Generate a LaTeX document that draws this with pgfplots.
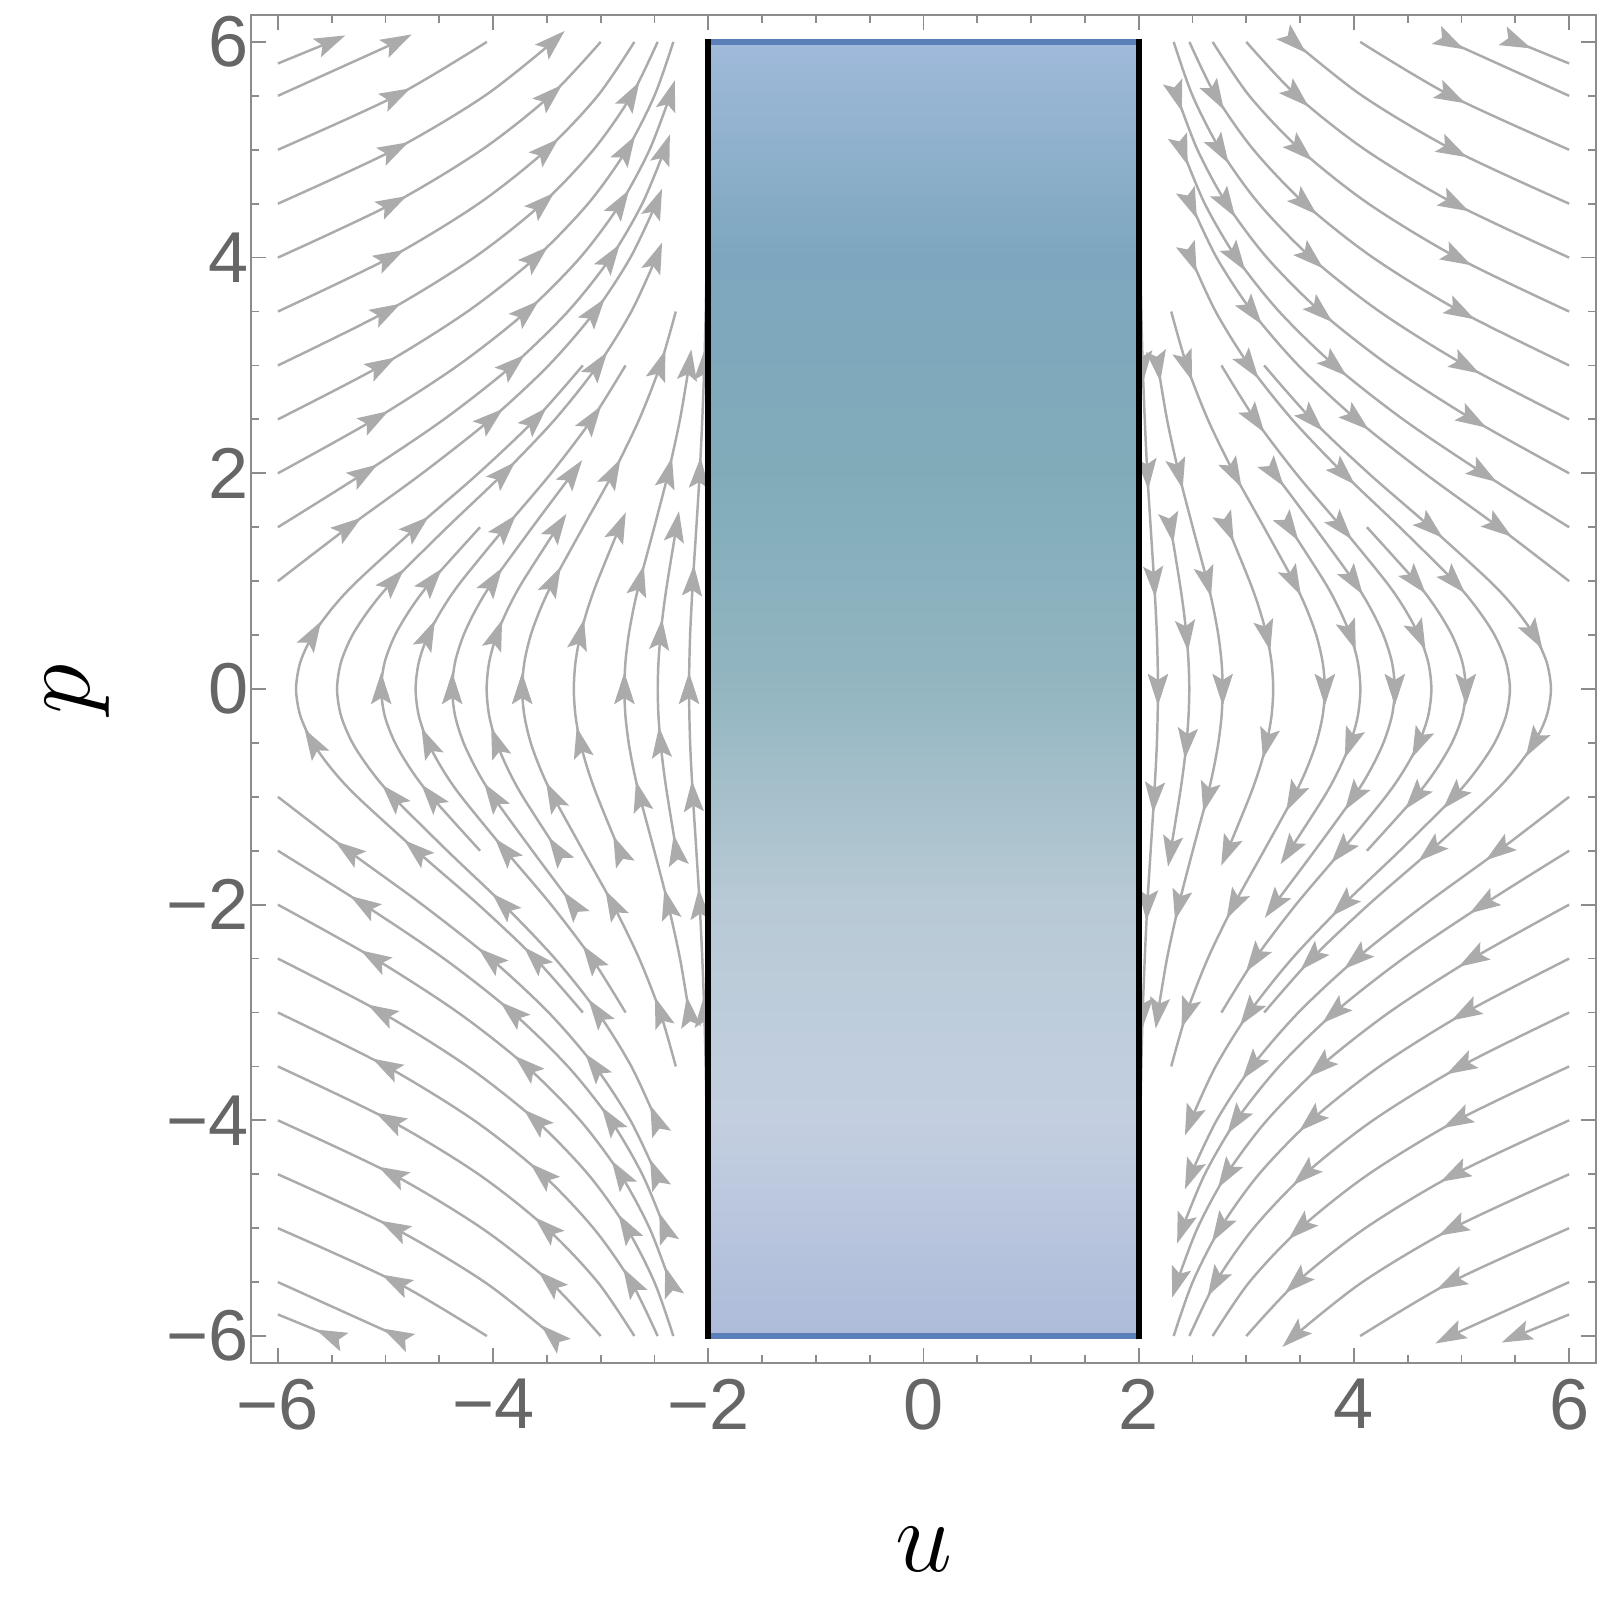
\documentclass[border=0pt]{standalone}
\usepackage{fontspec}
\setmainfont{Liberation Sans}
\usepackage{pgfplots}
\usepackage{pgfplotstable}
\pgfplotsset{compat=1.18}
\usetikzlibrary{arrows.meta}

\definecolor{slgray}{HTML}{ABABAB}
\definecolor{framegray}{HTML}{8C8C8C}
\definecolor{ticktext}{HTML}{666666}
\definecolor{edgeblue}{HTML}{5B7FB8}
\definecolor{sA}{HTML}{AEBBDA}
\definecolor{sB}{HTML}{C3CFE0}
\definecolor{sC}{HTML}{B8CAD5}
\definecolor{sD}{HTML}{93B6C1}
\definecolor{sE}{HTML}{80ACBA}
\definecolor{sF}{HTML}{7DA7BE}
\definecolor{sG}{HTML}{A0BADB}

\tikzset{
  sl/.style={draw=slgray, line width=0.7pt, smooth},
  ah/.style={draw=slgray, fill=slgray, line width=0.7pt, -{Stealth[length=0.31cm,width=0.2cm,inset=0.06cm]}},
}

% turning streamlines (left half)
\pgfplotstableread{
u p
-3.166 -3
-3.608 -2.5
-4.136 -2
-4.712 -1.5
-5.262 -1
-5.494 -0.75
-5.675 -0.5
-5.791 -0.25
-5.831 0
-5.791 0.25
-5.675 0.5
-5.494 0.75
-5.262 1
-4.712 1.5
-4.136 2
-3.608 2.5
-3.166 3
}\tA
\pgfplotstableread{
u p
-2.484 -4
-2.715 -3.5
-3.027 -3
-3.425 -2.5
-3.902 -2
-4.426 -1.5
-4.930 -1
-5.141 -0.75
-5.307 -0.5
-5.413 -0.25
-5.450 0
-5.413 0.25
-5.307 0.5
-5.141 0.75
-4.930 1
-4.426 1.5
-3.902 2
-3.425 2.5
-3.027 3
-2.715 3.5
-2.484 4
}\tB
\pgfplotstableread{
u p
-4.121 -1.5
-4.572 -1
-4.762 -0.75
-4.911 -0.5
-5.007 -0.25
-5.040 0
-5.007 0.25
-4.911 0.5
-4.762 0.75
-4.572 1
-4.121 1.5
}\tC
\pgfplotstableread{
u p
-2.769 -3
-3.082 -2.5
-3.461 -2
-3.885 -1.5
-4.294 -1
-4.467 -0.75
-4.603 -0.5
-4.690 -0.25
-4.720 0
-4.690 0.25
-4.603 0.5
-4.467 0.75
-4.294 1
-3.885 1.5
-3.461 2
-3.082 2.5
-2.769 3
}\tD
\pgfplotstableread{
u p
-3.260 -2
-3.635 -1.5
-3.999 -1
-4.153 -0.75
-4.274 -0.5
-4.353 -0.25
-4.380 0
-4.353 0.25
-4.274 0.5
-4.153 0.75
-3.999 1
-3.635 1.5
-3.260 2
}\tE
\pgfplotstableread{
u p
-3.401 -1.5
-3.723 -1
-3.859 -0.75
-3.967 -0.5
-4.036 -0.25
-4.060 0
-4.036 0.25
-3.967 0.5
-3.859 0.75
-3.723 1
-3.401 1.5
}\tF
\pgfplotstableread{
u p
-2.302 -3.5
-2.447 -3
-2.642 -2.5
-2.886 -2
-3.164 -1.5
-3.439 -1
-3.557 -0.75
-3.650 -0.5
-3.709 -0.25
-3.730 0
-3.709 0.25
-3.650 0.5
-3.557 0.75
-3.439 1
-3.164 1.5
-2.886 2
-2.642 2.5
-2.447 3
-2.302 3.5
}\tG
\pgfplotstableread{
u p
-2.825 -1.5
-3.030 -1
-3.119 -0.75
-3.189 -0.5
-3.234 -0.25
-3.250 0
-3.234 0.25
-3.189 0.5
-3.119 0.75
-3.030 1
-2.825 1.5
}\tH
\pgfplotstableread{
u p
-2.179 -3
-2.263 -2.5
-2.373 -2
-2.502 -1.5
-2.636 -1
-2.694 -0.75
-2.740 -0.5
-2.770 -0.25
-2.780 0
-2.770 0.25
-2.740 0.5
-2.694 0.75
-2.636 1
-2.502 1.5
-2.373 2
-2.263 2.5
-2.179 3
}\tI
\pgfplotstableread{
u p
-2.297 -1.5
-2.379 -1
-2.415 -0.75
-2.444 -0.5
-2.463 -0.25
-2.470 0
-2.463 0.25
-2.444 0.5
-2.415 0.75
-2.379 1
-2.297 1.5
}\tJ
\pgfplotstableread{
u p
-2.002 -6
-2.004 -5.5
-2.006 -5
-2.010 -4.5
-2.016 -4
-2.024 -3.5
-2.037 -3
-2.056 -2.5
-2.080 -2
-2.111 -1.5
-2.143 -1
-2.169 -0.5
-2.179 0
-2.169 0.5
-2.143 1
-2.111 1.5
-2.080 2
-2.056 2.5
-2.037 3
-2.024 3.5
-2.016 4
-2.010 4.5
-2.006 5
-2.004 5.5
-2.002 6
}\tK

% streamlines entering from the left edge (upper-left branch)
\pgfplotstableread{
u p
-6.000 1
-5.346 1.5
-4.658 2
-4.023 2.5
-3.484 3
-3.053 3.5
-2.724 4
-2.485 4.5
}\eA
\pgfplotstableread{
u p
-6.000 1.5
-5.201 2
-4.457 2.5
-3.820 3
-3.305 3.5
-2.907 4
-2.614 4.5
-2.406 5
}\eB
\pgfplotstableread{
u p
-6.000 2
-5.102 2.5
-4.326 3
-3.689 3.5
-3.191 4
-2.817 4.5
-2.546 5
-2.356 5.5
}\eC
\pgfplotstableread{
u p
-6.000 2.5
-5.037 3
-4.238 3.5
-3.603 4
-3.117 4.5
-2.758 5
-2.501 5.5
-2.325 6
}\eD
\pgfplotstableread{
u p
-6.000 3
-4.991 3.5
-4.177 4
-3.544 4.5
-3.067 5
-2.716 5.5
-2.471 6
}\eE
\pgfplotstableread{
u p
-6.000 3.5
-4.959 4
-4.135 4.5
-3.503 5
-3.028 5.5
-2.687 6
}\eF
\pgfplotstableread{
u p
-6.000 4
-4.936 4.5
-4.105 5
-3.470 5.5
-3.000 6
}\eG
\pgfplotstableread{
u p
-6.000 4.5
-4.919 5
-4.078 5.5
-3.445 6
}\eH
\pgfplotstableread{
u p
-6.000 5
-4.902 5.5
-4.058 6
}\eI
\pgfplotstableread{
u p
-6.000 5.5
-4.891 6
}\eJ
\pgfplotstableread{
u p
-6.000 5.8
-5.510 6
}\eK

% arrowheads in the upper-left quarter: position and unit direction of flow
\pgfplotstableread{
x y cx cy
-5.675 0.5 0.516 0.857
-4.712 1.5 0.757 0.653
-3.608 2.5 0.698 0.716
-4.930 1 0.677 0.736
-3.902 2 0.713 0.701
-3.027 3 0.579 0.816
-2.484 4 0.364 0.931
-5.040 0 0 1
-4.572 1 0.637 0.771
-4.603 0.5 0.412 0.911
-3.885 1.5 0.650 0.760
-3.082 2.5 0.572 0.821
-4.380 0 0 1
-3.999 1 0.557 0.831
-3.260 2 0.584 0.812
-3.967 0.5 0.338 0.941
-3.401 1.5 0.555 0.832
-3.730 0 0 1
-3.439 1 0.454 0.891
-2.886 2 0.469 0.883
-2.447 3 0.321 0.947
-3.189 0.5 0.228 0.974
-2.825 1.5 0.389 0.921
-2.780 0 0 1
-2.636 1 0.242 0.970
-2.373 2 0.236 0.972
-2.179 3 0.142 0.990
-2.444 0.5 0.0975 0.995
-2.297 1.5 0.164 0.986
-2.179 0 0 1
-2.143 1 0.0616 0.998
-2.080 2 0.0557 0.998
-2.037 3 0.0308 1.0
-5.346 1.5 0.810 0.587
-4.023 2.5 0.763 0.646
-3.053 3.5 0.603 0.798
-2.485 4.5 0.371 0.928
-5.201 2 0.843 0.538
-3.820 3 0.756 0.655
-2.907 4 0.565 0.825
-2.406 5 0.326 0.945
-5.102 2.5 0.860 0.510
-3.689 3.5 0.749 0.662
-2.817 4.5 0.538 0.843
-2.356 5.5 0.296 0.955
-5.037 3 0.870 0.493
-3.603 4 0.744 0.668
-2.758 5 0.519 0.855
-4.991 3.5 0.876 0.482
-3.544 4.5 0.741 0.671
-2.716 5.5 0.505 0.863
-4.959 4 0.880 0.474
-3.503 5 0.739 0.674
-4.936 4.5 0.883 0.469
-3.470 5.5 0.736 0.676
-4.919 5 0.886 0.464
-3.445 6 0.735 0.678
-4.902 5.5 0.887 0.462
-4.891 6 0.888 0.460
-5.510 6 0.915 0.403
}\arr

\newcommand\turn[1]{%
  \addplot[sl] table[x=u,y=p]{#1};
  \addplot[sl] table[x expr=-\thisrow{u}, y expr=-\thisrow{p}]{#1};}
\newcommand\entry[1]{%
  \addplot[sl] table[x=u,y=p]{#1};
  \addplot[sl] table[x=u,y expr=-\thisrow{p}]{#1};
  \addplot[sl] table[x expr=-\thisrow{u},y=p]{#1};
  \addplot[sl] table[x expr=-\thisrow{u},y expr=-\thisrow{p}]{#1};}

\begin{document}
\begin{tikzpicture}
\useasboundingbox (-2.51cm,-2.46cm) rectangle (13.49cm,13.63cm);
\begin{axis}[
  at={(0,0)}, anchor=south west,
  scale only axis, width=13.45cm, height=13.48cm,
  xmin=-6.25, xmax=6.25, ymin=-6.25, ymax=6.25,
  xtick={-6,-4,-2,0,2,4,6}, ytick={-6,-4,-2,0,2,4,6},
  xticklabels={−6,−4,−2,0,2,4,6}, yticklabels={−6,−4,−2,0,2,4,6},
  minor tick num=3,
  tick align=inside,
  major tick length=0.15cm, minor tick length=0.08cm,
  every tick/.style={framegray, line width=0.5pt},
  axis line style={framegray, line width=0.6pt},
  ticklabel style={font=\fontsize{20.5}{24}\selectfont, text=ticktext},
  xticklabel style={yshift=-0.04cm},
  yticklabel style={xshift=0.1cm},
  xlabel={$u$}, ylabel={$p$},
  xlabel style={at={(axis description cs:0.5,0)}, anchor=center, yshift=-1.86cm, font=\Huge, scale=1.17},
  ylabel style={at={(axis description cs:-0.1294,0.5)}, anchor=center, font=\Huge, scale=1.17},
]
\turn{\tA}\turn{\tB}\turn{\tC}\turn{\tD}\turn{\tE}\turn{\tF}
\turn{\tG}\turn{\tH}\turn{\tI}\turn{\tJ}\turn{\tK}
\entry{\eA}\entry{\eB}\entry{\eC}\entry{\eD}\entry{\eE}\entry{\eF}
\entry{\eG}\entry{\eH}\entry{\eI}\entry{\eJ}\entry{\eK}

% arrowheads, in the four quarters
\addplot[ah, quiver={u=\thisrow{cx}, v=\thisrow{cy}, scale arrows=0.15}] table[x=x, y=y]{\arr};
\addplot[ah, quiver={u=-\thisrow{cx}, v=\thisrow{cy}, scale arrows=0.15}] table[x=x, y expr=-\thisrow{y}]{\arr};
\addplot[ah, quiver={u=\thisrow{cx}, v=-\thisrow{cy}, scale arrows=0.15}] table[x expr=-\thisrow{x}, y=y]{\arr};
\addplot[ah, quiver={u=-\thisrow{cx}, v=-\thisrow{cy}, scale arrows=0.15}] table[x expr=-\thisrow{x}, y expr=-\thisrow{y}]{\arr};

% vertical colour gradient of the rectangle
\addplot[draw=none, bottom color=sA, top color=sB] coordinates {(-2,-6) (2,-6) (2,-3.98) (-2,-3.98)};
\addplot[draw=none, bottom color=sB, top color=sC] coordinates {(-2,-4) (2,-4) (2,-1.98) (-2,-1.98)};
\addplot[draw=none, bottom color=sC, top color=sD] coordinates {(-2,-2) (2,-2) (2,0.02) (-2,0.02)};
\addplot[draw=none, bottom color=sD, top color=sE] coordinates {(-2,0) (2,0) (2,2.02) (-2,2.02)};
\addplot[draw=none, bottom color=sE, top color=sF] coordinates {(-2,2) (2,2) (2,4.02) (-2,4.02)};
\addplot[draw=none, bottom color=sF, top color=sG] coordinates {(-2,4) (2,4) (2,6) (-2,6)};

\addplot[edgeblue, line width=1.8pt] coordinates {(-2,6) (2,6)};
\addplot[edgeblue, line width=1.8pt] coordinates {(-2,-6) (2,-6)};
\addplot[black, line width=1.8pt] coordinates {(-2,-6.03) (-2,6.03)};
\addplot[black, line width=1.8pt] coordinates {(2,-6.03) (2,6.03)};
\end{axis}
\end{tikzpicture}
\end{document}
